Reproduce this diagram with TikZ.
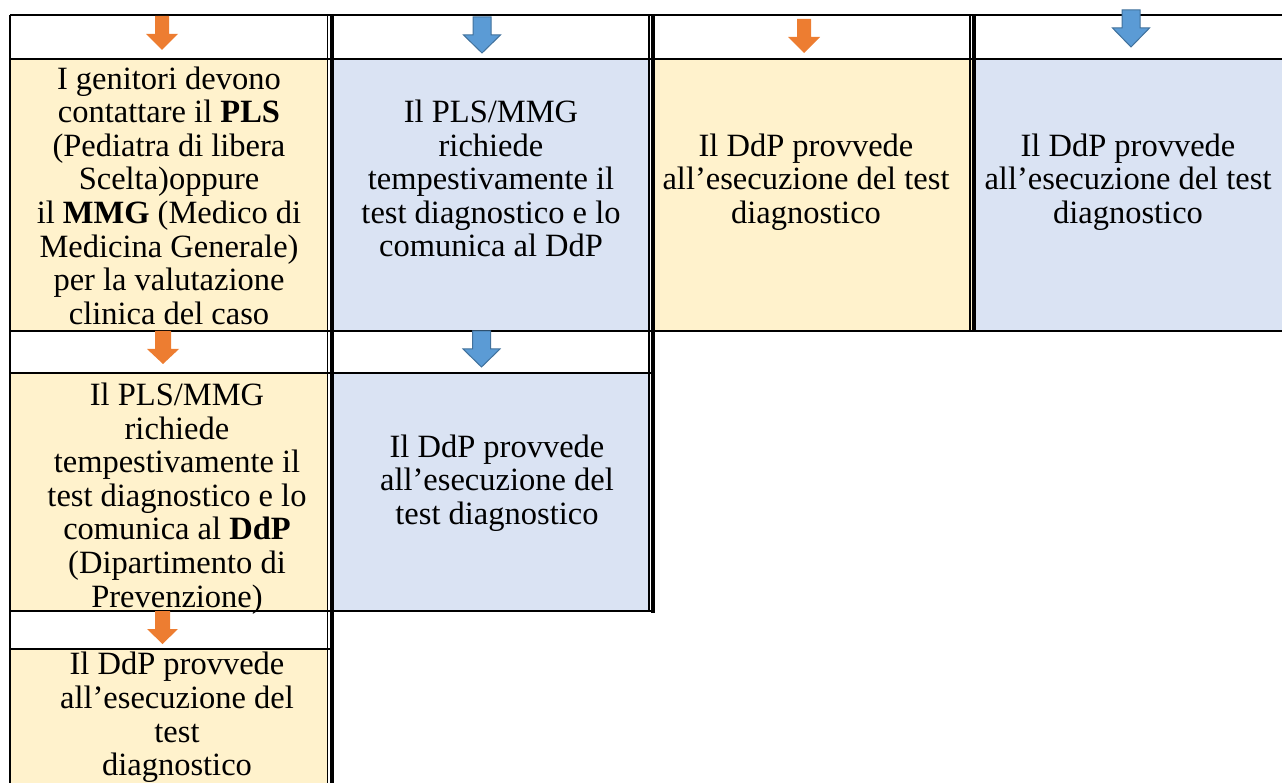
\documentclass[tikz,border=0pt]{standalone}
\usepackage{fontspec}
\setmainfont{Liberation Serif}
\usepackage{tikz}
\usetikzlibrary{positioning}
\definecolor{arrorange}{HTML}{ED7D31}
\definecolor{arrblue}{HTML}{5B9BD5}
\definecolor{arrblueline}{HTML}{41719C}
\definecolor{cellyellow}{HTML}{FFF2CC}
\definecolor{cellblue}{HTML}{DAE3F3}
\tikzset{
  celltext/.style={align=center, inner sep=0pt, font=\fontsize{32.5}{33.6}\selectfont,
    execute at begin node=\strut, execute at end node=\strut},
  thinrule/.style={line width=1.5pt},
  thickrule/.style={line width=3.5pt},
  orangearrow/.style={fill=arrorange},
  bluearrow/.style={fill=arrblue, draw=arrblueline, line width=1pt, line join=miter}
}

\begin{document}
\begin{tikzpicture}[x=1pt,y=-1pt]
\useasboundingbox (0,0) rectangle (1282,783);
% cell colours
\fill[cellyellow] (10,59) rectangle (328,331); \fill[cellblue] (332,59) rectangle (649,331);
\fill[cellyellow] (653,59) rectangle (972,331); \fill[cellblue] (974,59) rectangle (1282,331);
\fill[cellyellow] (10,373) rectangle (328,611); \fill[cellblue] (332,373) rectangle (649,611);
\fill[cellyellow] (10,649) rectangle (328,783);

% horizontal rules
\draw[thinrule] (10,15) -- (1282,15); \draw[thinrule] (10,59) -- (1282,59);
\draw[thinrule] (10,331) -- (1282,331);
\draw[thinrule] (10,373) -- (651,373); \draw[thinrule] (10,611) -- (655,611);
\draw[thinrule] (10,649) -- (330,649);

% vertical rules (double lines between columns)
\draw[thinrule] (10,15) -- (10,783);
\draw[thinrule] (327.7,15) -- (327.7,783); \draw[thickrule] (332,15) -- (332,783);
\draw[thinrule] (649,15) -- (649,611.75); \draw[thickrule] (653,15) -- (653,612.5);
\draw[thinrule] (970,15) -- (970,331); \draw[thickrule] (974,15) -- (974,331);

% cell texts
\node[celltext] (contatto) at (169,200.5) {I genitori devono\\contattare il \textbf{PLS}\\(Pediatra di libera\\Scelta)oppure\\il \textbf{MMG} (Medico di\\Medicina Generale)\\per la valutazione\\clinica del caso};
\node[celltext] (richiestaA) at (491,183.5) {Il PLS/MMG\\richiede\\tempestivamente il\\test diagnostico e lo\\comunica al DdP};
\node[celltext] (testA) at (806,183.5) {Il DdP provvede\\all’esecuzione del test\\diagnostico};
\node[celltext] (testB) at (1128,183.5) {Il DdP provvede\\all’esecuzione del test\\diagnostico};
\node[celltext] (richiestaB) at (177,500) {Il PLS/MMG\\richiede\\tempestivamente il\\test diagnostico e lo\\comunica al \textbf{DdP}\\(Dipartimento di\\Prevenzione)};
\node[celltext] (testC) at (497,484.5) {Il DdP provvede\\all’esecuzione del\\test diagnostico};
\node[celltext] (testD) at (177,719) {Il DdP provvede\\all’esecuzione del\\test\\diagnostico};

% block arrows
\fill[orangearrow] (155,16) -- (169,16) -- (169,34) -- (178,34) -- (162,50) -- (146,34) -- (155,34) -- cycle;
\fill[orangearrow] (797,19) -- (811,19) -- (811,37) -- (820,37) -- (804,53) -- (788,37) -- (797,37) -- cycle;
\fill[orangearrow] (155,331) -- (171,331) -- (171,349) -- (179,349) -- (163,364) -- (147,349) -- (155,349) -- cycle;
\fill[orangearrow] (155,611) -- (170,611) -- (170,629) -- (178,629) -- (162.5,644) -- (147,629) -- (155,629) -- cycle;
\draw[bluearrow] (473,17) -- (491,17) -- (491,35) -- (500.5,35) -- (482,53) -- (463.5,35) -- (473,35) -- cycle;
\draw[bluearrow] (1122,10) -- (1140,10) -- (1140,28) -- (1149.5,28) -- (1131,47) -- (1112.5,28) -- (1122,28) -- cycle;
\draw[bluearrow] (472.5,331) -- (490.5,331) -- (490.5,349) -- (500,349) -- (481.5,367) -- (463,349) -- (472.5,349) -- cycle;
\end{tikzpicture}
\end{document}
